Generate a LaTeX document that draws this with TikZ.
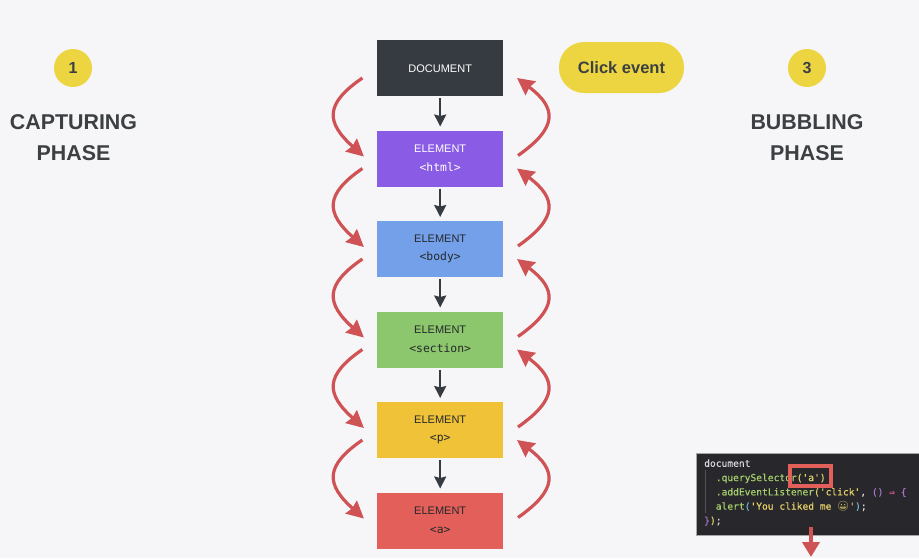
\documentclass[tikz,border=0pt]{standalone}
\usepackage{fontspec}
\setmainfont{Liberation Sans}
\newfontfamily\codefont[FakeBold=0.3]{DejaVu Sans Mono}
\newfontfamily\tagfont{DejaVu Sans Mono}
\newfontfamily\emojifont{Noto Emoji}
\usepackage{tikz}
\usetikzlibrary{positioning, arrows.meta}
\usepackage{xcolor}

\definecolor{pagebg}{HTML}{F6F6F8}
\definecolor{docgray}{HTML}{363B41}
\definecolor{htmlpurple}{HTML}{8A5CE6}
\definecolor{bodyblue}{HTML}{74A0E9}
\definecolor{sectiongreen}{HTML}{8CC76E}
\definecolor{pyellow}{HTML}{EFC238}
\definecolor{ared}{HTML}{E3605A}
\definecolor{badgeyellow}{HTML}{ECD540}
\definecolor{curvered}{HTML}{CF5255}
\definecolor{inkdark}{HTML}{3C4043}
\definecolor{boxink}{HTML}{25282B}
\definecolor{codebg}{HTML}{27272C}
\definecolor{codeplain}{HTML}{D8D8D8}
\definecolor{codegreen}{HTML}{A6CF6B}
\definecolor{codeyellow}{HTML}{E8D26A}
\definecolor{codepurple}{HTML}{A875C8}
\definecolor{codepink}{HTML}{C8507E}
\definecolor{codeblue}{HTML}{6FB7D8}

\newcommand{\cg}[1]{\textcolor{codegreen}{#1}}
\newcommand{\cy}[1]{\textcolor{codeyellow}{#1}}
\newcommand{\cp}[1]{\textcolor{codepurple}{#1}}
\newcommand{\cb}[1]{\textcolor{codeblue}{#1}}
\newcommand{\tagline}[1]{\\{\tagfont\fontsize{11.4}{18.6}\selectfont #1}}

\begin{document}
\begin{tikzpicture}[
    x=1pt, y=-1pt,
    node distance=34.5pt,
    box/.style={rectangle, minimum width=125.6pt, minimum height=56pt, inner sep=0pt, outer sep=0pt,
        align=center, font=\fontsize{11}{18.6}\selectfont, execute at begin node={\rule{0pt}{9pt}}},
    badge/.style={circle, fill=badgeyellow, minimum size=38pt, inner sep=0pt, text=inkdark,
        font=\fontsize{16}{18}\selectfont\bfseries},
    phase/.style={align=center, text=inkdark, font=\fontsize{21.4}{31}\selectfont\bfseries},
    down/.style={-{Stealth[length=12pt, width=12pt, inset=1.5pt]}, line width=2pt, draw=docgray, shorten <=2pt, shorten >=4pt},
    curve/.style={-{Stealth[length=17pt, width=17pt, inset=1.5pt]}, line width=3.2pt, draw=curvered}
]

\useasboundingbox[fill=pagebg] (0,0) rectangle (919,558);

\node[box, fill=docgray, text=white] (doc) at (440.2,68) {DOCUMENT};
\node[box, fill=htmlpurple, text=white, below=of doc] (html) {ELEMENT\tagline{<html>}};
\node[box, fill=bodyblue, text=boxink, below=of html] (body) {ELEMENT\tagline{<body>}};
\node[box, fill=sectiongreen, text=boxink, below=of body] (section) {ELEMENT\tagline{<section>}};
\node[box, fill=pyellow, text=boxink, below=of section] (para) {ELEMENT\tagline{<p>}};
\node[box, fill=ared, text=boxink, below=of para] (anchor) {ELEMENT\tagline{<a>}};

\node[badge] (one) at (73,68) {1};
\node[badge] (three) at (807,68) {3};
\node[phase] (capturing) at (73.5,137.5) {CAPTURING\\PHASE};
\node[phase] (bubbling) at (807,137.5) {BUBBLING\\PHASE};
\node[rectangle, rounded corners=25pt, fill=badgeyellow, minimum width=125pt, minimum height=51pt, text=inkdark,
    font=\fontsize{16.5}{18}\selectfont\bfseries] (click) at (621.5,67.5) {Click event};

\foreach \a/\b in {doc/html, html/body, body/section, section/para, para/anchor} {
    \draw[down] (\a) -- (\b);
    \draw[curve] ([shift={(-15,-18)}]\a.south west) .. controls +(-38,26) and +(-38,-34) .. ([shift={(-13.5,-2)}]\b.west);
    \draw[curve] ([shift={(15,-3)}]\b.east) .. controls +(40,-28) and +(40,30) .. ([shift={(14,-18)}]\a.south east);
}

% code panel
\node[rectangle, fill=codebg, draw=gray!70, line width=0.5pt, minimum width=223.5pt, minimum height=82.5pt] (panel) at (807.5,494) {};
\draw[codeplain!25!codebg, line width=0.5pt] (705,470) -- (705,513);
\node[anchor=west, inner sep=0pt, align=left, text=codeplain, font=\codefont\fontsize{9.6}{14.3}\selectfont] (snippet) at (704,492.5) {%
document\\
\hspace*{11.6pt}\cg{.querySelector}\cy{('a')}\\
\hspace*{11.6pt}\cg{.addEventListener}\cy{('click'}, \cp{()} \textcolor{codepink}{⇒} \cp{\{}\\
\hspace*{11.6pt}\cg{alert}\cb{(}\cy{'You cliked me {\emojifont 😀}'}\cb{)};\\
\cp{\}}\cy{)};};
\node[rectangle, draw=ared, line width=4.4pt, minimum width=41pt, minimum height=20pt, inner sep=0pt] (selector) at (810.5,476) {};

\coordinate (pointertop) at (811,527);
\coordinate (pointerend) at (811,557);
\draw[-{Triangle[length=15pt, width=17pt]}, draw=curvered, fill=curvered, line width=4pt] (pointertop) -- (pointerend);

\end{tikzpicture}
\end{document}
